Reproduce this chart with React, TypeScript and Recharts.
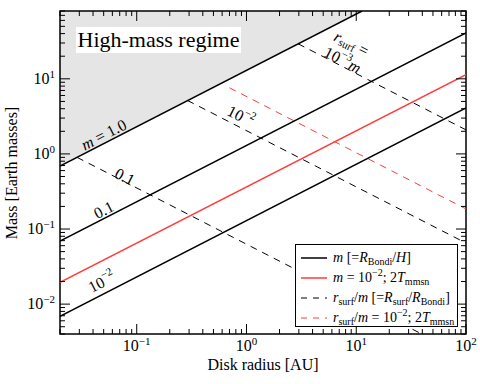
import React from 'react';
import { ComposedChart, Line, Area, XAxis, YAxis, ReferenceArea, ReferenceDot } from 'recharts';

const FONT = '"Liberation Serif", "DejaVu Serif", serif';

const W = 480;
const H = 384;
const MARGIN = { top: 11, right: 14, bottom: 20, left: 10 };
const Y_AXIS_W = 50;
const X_AXIS_H = 30;
const PLOT_LEFT = MARGIN.left + Y_AXIS_W;
const PLOT_RIGHT = W - MARGIN.right;
const PLOT_TOP = MARGIN.top;
const PLOT_BOTTOM = H - MARGIN.bottom - X_AXIS_H;

const xDomain = [0.02, 100];
const yDomain = [0.004, 80];

const xMajor = [0.1, 1, 10, 100];
const xMinor = [
  0.02, 0.03, 0.04, 0.05, 0.06, 0.07, 0.08, 0.09,
  0.2, 0.3, 0.4, 0.5, 0.6, 0.7, 0.8, 0.9,
  2, 3, 4, 5, 6, 7, 8, 9,
  20, 30, 40, 50, 60, 70, 80, 90,
];
const xMajorLabels = ['−1', '0', '1', '2'];

const yMajor = [0.01, 0.1, 1, 10];
const yMinor = [
  0.004, 0.005, 0.006, 0.007, 0.008, 0.009,
  0.02, 0.03, 0.04, 0.05, 0.06, 0.07, 0.08, 0.09,
  0.2, 0.3, 0.4, 0.5, 0.6, 0.7, 0.8, 0.9,
  2, 3, 4, 5, 6, 7, 8, 9,
  20, 30, 40, 50, 60, 70, 80,
];
const yMajorLabels = ['−2', '−1', '0', '1'];

// m = const lines (solid)
const mOne = [{ r: 0.02, mass: 0.69 }, { r: 11.3, mass: 80 }];
const mTenth = [{ r: 0.02, mass: 0.069 }, { r: 100, mass: 41 }];
const mHundredth = [{ r: 0.02, mass: 0.0069 }, { r: 100, mass: 4.1 }];
const mHundredth2T = [{ r: 0.02, mass: 0.0195 }, { r: 100, mass: 11.4 }];

// r_surf/m = const lines (dashed)
const rsTenth = [{ r: 0.0286, mass: 0.9 }, { r: 39.5, mass: 0.004 }];
const rsHundredth = [{ r: 0.29, mass: 5.15 }, { r: 100, mass: 0.065 }];
const rsThousandth = [{ r: 2.95, mass: 29.3 }, { r: 100, mass: 2.09 }];
const rsHundredth2T = [{ r: 0.7, mass: 7.6 }, { r: 100, mass: 0.185 }];

// shaded region above m = 1
const highMass = [{ r: 0.02, band: [0.69, 80] }, { r: 11.3, band: [80, 80] }];

const RED = '#ff3b3b';
const SHADE = '#e5e5e5';

const Sup = ({ children }: { children: React.ReactNode }) => (
  <tspan dy={-6} fontSize={11}>{children}</tspan>
);

const XTick = (props: any) => {
  const { x, payload } = props;
  const idx = xMajor.indexOf(payload.value);
  const len = idx >= 0 ? 10 : 5;
  return (
    <g>
      <line x1={x} x2={x} y1={PLOT_BOTTOM} y2={PLOT_BOTTOM - len} stroke="#000" />
      <line x1={x} x2={x} y1={PLOT_TOP} y2={PLOT_TOP + len} stroke="#000" />
      {idx >= 0 && (
        <text x={x} y={PLOT_BOTTOM + 17} textAnchor="middle" fontFamily={FONT} fontSize={16} fill="#000">
          10<Sup>{xMajorLabels[idx]}</Sup>
        </text>
      )}
    </g>
  );
};

const YTick = (props: any) => {
  const { y, payload } = props;
  const idx = yMajor.indexOf(payload.value);
  const len = idx >= 0 ? 10 : 5;
  return (
    <g>
      <line x1={PLOT_LEFT} x2={PLOT_LEFT + len} y1={y} y2={y} stroke="#000" />
      <line x1={PLOT_RIGHT} x2={PLOT_RIGHT - len} y1={y} y2={y} stroke="#000" />
      {idx >= 0 && (
        <text x={PLOT_LEFT - 5} y={y + 5} textAnchor="end" fontFamily={FONT} fontSize={16} fill="#000">
          10<Sup>{yMajorLabels[idx]}</Sup>
        </text>
      )}
    </g>
  );
};

const onLine = (content: React.ReactNode, angle: number) => (p: any) => (
  <text
    x={p.cx}
    y={p.cy}
    transform={`rotate(${angle} ${p.cx} ${p.cy})`}
    textAnchor="middle"
    dominantBaseline="central"
    fontFamily={FONT}
    fontSize={16}
    fill="#000"
  >
    {content}
  </text>
);

const lineLabels = [
  { r: 0.05, mass: 1.82, angle: -27, content: <><tspan fontStyle="italic">m</tspan> = 1.0</> },
  { r: 0.05, mass: 0.18, angle: -27, content: <>0.1</> },
  { r: 0.048, mass: 0.0198, angle: -27, content: <>10<Sup>−2</Sup></> },
  { r: 0.078, mass: 0.5, angle: 27, content: <>0.1</> },
  { r: 0.89, mass: 3.2, angle: 27, content: <>10<Sup>−2</Sup></> },
  {
    r: 9.1, mass: 30, angle: 27,
    content: <><tspan fontStyle="italic">r</tspan><tspan dy={4} fontSize={11}>surf</tspan><tspan dy={-4}> =</tspan></>,
  },
  {
    r: 7.55, mass: 17.9, angle: 27,
    content: <>10<Sup>−3</Sup><tspan dy={6} fontStyle="italic">m</tspan></>,
  },
];

const sub = { fontSize: 10, verticalAlign: 'baseline', position: 'relative' as const, top: 3 };
const sup = { fontSize: 10, verticalAlign: 'baseline', position: 'relative' as const, top: -6 };

const legendRows = [
  { color: '#000', dash: undefined, text: <><i>m</i> [=<i>R</i><span style={sub}>Bondi</span>/<i>H</i>]</> },
  { color: RED, dash: undefined, text: <><i>m</i> = 10<span style={sup}>−2</span>; 2<i>T</i><span style={sub}>mmsn</span></> },
  { color: '#000', dash: '6 6', text: <><i>r</i><span style={sub}>surf</span>/<i>m</i> [=<i>R</i><span style={sub}>surf</span>/<i>R</i><span style={sub}>Bondi</span>]</> },
  { color: RED, dash: '6 6', text: <><i>r</i><span style={sub}>surf</span>/<i>m</i> = 10<span style={sup}>−2</span>; 2<i>T</i><span style={sub}>mmsn</span></> },
];

export default function App() {
  return (
    <div style={{ position: 'absolute', left: 0, top: 0, width: W, height: H, background: '#fff', fontFamily: FONT }}>
      <ComposedChart width={W} height={H} margin={MARGIN}>
        <XAxis
          dataKey="r"
          type="number"
          scale="log"
          domain={xDomain}
          allowDataOverflow
          ticks={[...xMajor, ...xMinor]}
          interval={0}
          height={X_AXIS_H}
          axisLine={false}
          tickLine={false}
          tickSize={0}
          tickMargin={0}
          tick={<XTick />}
        />
        <YAxis
          dataKey="mass"
          type="number"
          scale="log"
          domain={yDomain}
          allowDataOverflow
          ticks={[...yMajor, ...yMinor]}
          interval={0}
          width={Y_AXIS_W}
          axisLine={false}
          tickLine={false}
          tickSize={0}
          tickMargin={0}
          tick={<YTick />}
        />
        <Area
          data={highMass}
          dataKey="band"
          stroke="none"
          fill={SHADE}
          fillOpacity={1}
          isAnimationActive={false}
        />
        <Line data={rsTenth} dataKey="mass" stroke="#000" strokeWidth={1} strokeDasharray="7 6" dot={false} isAnimationActive={false} />
        <Line data={rsHundredth} dataKey="mass" stroke="#000" strokeWidth={1} strokeDasharray="7 6" dot={false} isAnimationActive={false} />
        <Line data={rsThousandth} dataKey="mass" stroke="#000" strokeWidth={1} strokeDasharray="7 6" dot={false} isAnimationActive={false} />
        <Line data={rsHundredth2T} dataKey="mass" stroke={RED} strokeWidth={1} strokeDasharray="7 6" dot={false} isAnimationActive={false} />
        <Line data={mOne} dataKey="mass" stroke="#000" strokeWidth={1.5} dot={false} isAnimationActive={false} />
        <Line data={mTenth} dataKey="mass" stroke="#000" strokeWidth={1.5} dot={false} isAnimationActive={false} />
        <Line data={mHundredth} dataKey="mass" stroke="#000" strokeWidth={1.5} dot={false} isAnimationActive={false} />
        <Line data={mHundredth2T} dataKey="mass" stroke={RED} strokeWidth={1.5} dot={false} isAnimationActive={false} />
        {lineLabels.map((l, i) => (
          <ReferenceDot key={i} x={l.r} y={l.mass} r={0} ifOverflow="visible" shape={onLine(l.content, l.angle)} />
        ))}
        <ReferenceArea
          x1={xDomain[0]}
          x2={xDomain[1]}
          y1={yDomain[0]}
          y2={yDomain[1]}
          fill="none"
          stroke="#000"
          strokeWidth={1.5}
          ifOverflow="visible"
        />
      </ComposedChart>

      <div
        style={{
          position: 'absolute', left: 76, top: 27, width: 165, height: 26,
          background: '#fff', fontSize: 22, lineHeight: '26px', textAlign: 'center', color: '#000',
        }}
      >
        High-mass regime
      </div>

      <div
        style={{
          position: 'absolute', left: 8, top: (PLOT_TOP + PLOT_BOTTOM) / 2, fontSize: 16,
          transform: 'translate(-50%, -50%) rotate(-90deg)', transformOrigin: 'center', whiteSpace: 'nowrap',
          marginLeft: 4,
        }}
      >
        Mass [Earth masses]
      </div>
      <div
        style={{
          position: 'absolute', left: (PLOT_LEFT + PLOT_RIGHT) / 2, top: 356, fontSize: 16,
          transform: 'translateX(-50%)', whiteSpace: 'nowrap',
        }}
      >
        Disk radius [AU]
      </div>

      <div
        style={{
          position: 'absolute', left: 295, top: 244, width: 161, height: 81,
          border: '1.5px solid #000', background: '#fff', fontSize: 14, boxSizing: 'content-box',
        }}
      >
        {legendRows.map((row, i) => (
          <div key={i} style={{ position: 'absolute', left: 4, top: 3 + i * 20, height: 20, display: 'flex', alignItems: 'center', whiteSpace: 'nowrap' }}>
            <svg width={28} height={20} style={{ marginRight: 5 }}>
              <line x1={1} x2={27} y1={10} y2={10} stroke={row.color} strokeWidth={row.dash ? 1 : 1.5} strokeDasharray={row.dash} />
            </svg>
            <span style={{ lineHeight: '20px' }}>{row.text}</span>
          </div>
        ))}
      </div>
    </div>
  );
}
